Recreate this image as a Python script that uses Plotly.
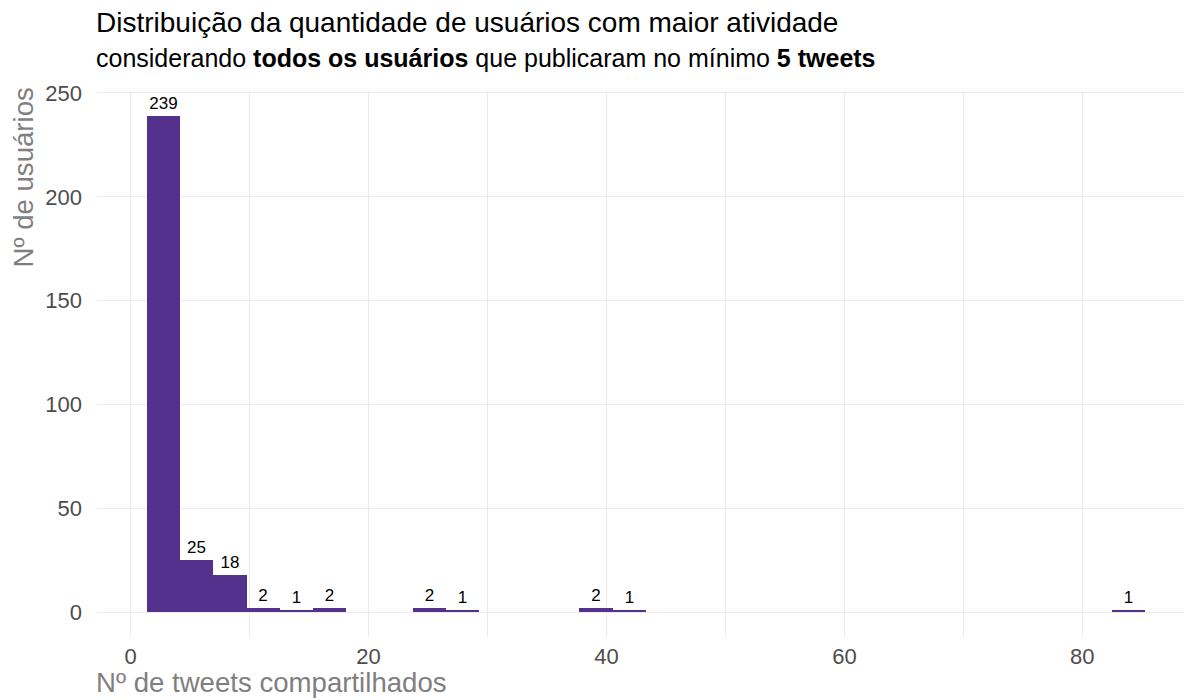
import plotly.graph_objects as go

# Histogram bins (centers in tweets) and counts
bin_centers = [2.74, 5.54, 8.34, 11.13, 13.93, 16.73, 25.12, 27.92, 39.11, 41.91, 83.86]
counts = [239, 25, 18, 2, 1, 2, 2, 1, 2, 1, 1]
bin_width = 2.797

x_ticks = [0, 20, 40, 60, 80]
y_ticks = [0, 50, 100, 150, 200, 250]

title = "Distribuição da quantidade de usuários com maior atividade"
subtitle = "considerando <b>todos os usuários</b> que publicaram no mínimo <b>5 tweets</b>"
x_title = "Nº de tweets compartilhados"
y_title = "Nº de usuários"

BAR = "#53318C"
GRAY = "#4D4D4D"
FONT = "Liberation Sans"

fig = go.Figure()
fig.add_trace(go.Bar(
    x=bin_centers, y=counts, width=[bin_width] * len(counts),
    marker=dict(color=BAR, line=dict(width=0)),
    text=[str(c) for c in counts], textposition="outside",
    textfont=dict(family=FONT, size=17, color="black"),
    cliponaxis=False, hoverinfo="skip",
))

fig.update_layout(
    width=1184, height=692,
    margin=dict(l=89, r=0, t=83, b=63, autoexpand=False),
    paper_bgcolor="white", plot_bgcolor="white",
    showlegend=False,
    font=dict(family=FONT, color=GRAY),
    bargap=0,
    xaxis=dict(
        range=[-2.83, 89.22], tickvals=x_ticks, ticktext=[str(v) for v in x_ticks],
        showgrid=True, gridcolor="#EBEBEB", gridwidth=1.3,
        minor=dict(tickvals=[10, 30, 50, 70], showgrid=True, gridcolor="#EBEBEB", gridwidth=1.3),
        zeroline=False, showline=False, ticks="", automargin=False,
        tickfont=dict(family=FONT, size=22, color=GRAY), ticklabelstandoff=4,
    ),
    yaxis=dict(
        range=[-11.95, 250.95], tickvals=y_ticks, ticktext=[str(v) for v in y_ticks],
        showgrid=True, gridcolor="#EBEBEB", gridwidth=1.3,
        zeroline=False, showline=False, ticks="", automargin=False,
        tickfont=dict(family=FONT, size=22, color=GRAY), ticklabelstandoff=14,
    ),
    annotations=[
        dict(text=title, xref="paper", yref="paper", x=0, y=1.1253, xanchor="left", yanchor="middle",
             xshift=-3, showarrow=False, font=dict(family=FONT, size=28, color="black")),
        dict(text=subtitle, xref="paper", yref="paper", x=0, y=1.0604, xanchor="left", yanchor="middle",
             xshift=-3, showarrow=False, font=dict(family=FONT, size=25, color="black")),
        dict(text=x_title, xref="paper", yref="paper", x=0, y=-0.084, xanchor="left", yanchor="middle",
             xshift=-3, showarrow=False, font=dict(family=FONT, size=27.6, color="#7F7F7F")),
        dict(text=y_title, xref="paper", yref="paper", x=-0.0667, y=1.01, xanchor="center", yanchor="top",
             textangle=-90, showarrow=False, font=dict(family=FONT, size=27.6, color="#7F7F7F")),
    ],
)

fig.write_html("out.html")
